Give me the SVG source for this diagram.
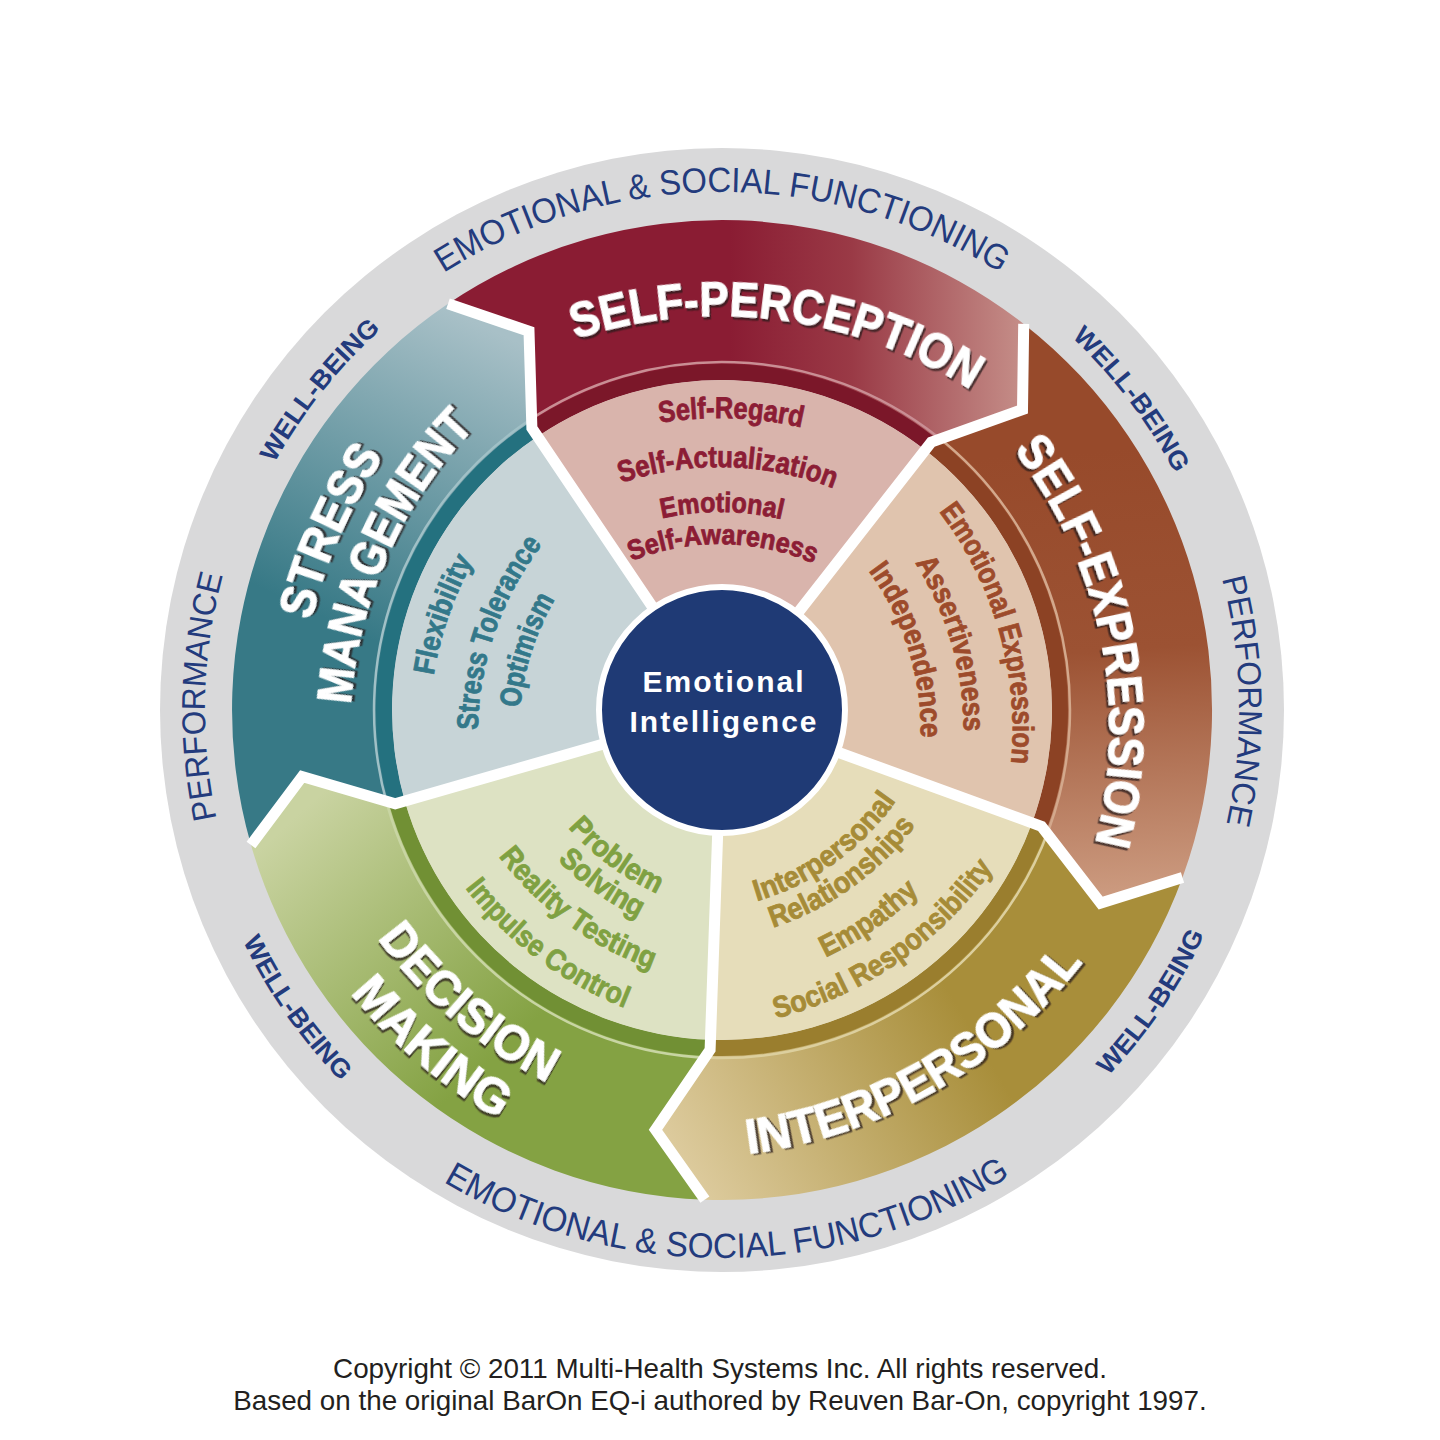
<svg xmlns="http://www.w3.org/2000/svg" xmlns:xlink="http://www.w3.org/1999/xlink" width="1440" height="1440" viewBox="0 0 1440 1440">
<style>
.ring{font-family:"Liberation Sans",Arial,sans-serif;fill:#233b7d;}
.wb{font-family:"Liberation Sans",Arial,sans-serif;fill:#233b7d;font-weight:bold;font-size:26px;}
.title{font-family:"Liberation Sans",Arial,sans-serif;font-weight:bold;font-size:49px;fill:#ffffff;stroke:#ffffff;stroke-width:1.1;filter:url(#sh);}
.inner{font-family:"Liberation Sans",Arial,sans-serif;font-weight:bold;font-size:30px;stroke-width:0.8;}
.wl{fill:none;stroke:#ffffff;stroke-width:11;stroke-linejoin:miter;}
</style>
<defs>
<filter id="sh" x="-5%" y="-20%" width="110%" height="140%"><feDropShadow dx="2" dy="2.5" stdDeviation="0.6" flood-color="#2a1c1c" flood-opacity="0.75"/></filter>
<linearGradient id="gSP" gradientUnits="userSpaceOnUse" x1="730" y1="0" x2="1035" y2="0"><stop offset="0" stop-color="#8a1c33"/><stop offset="0.4" stop-color="#9a3a46"/><stop offset="1" stop-color="#c8948d"/></linearGradient>
<linearGradient id="gSE" gradientUnits="userSpaceOnUse" x1="1100" y1="450" x2="1130" y2="895"><stop offset="0" stop-color="#974a2b"/><stop offset="0.45" stop-color="#9c5233"/><stop offset="1" stop-color="#cc9b80"/></linearGradient>
<linearGradient id="gIP" gradientUnits="userSpaceOnUse" x1="690" y1="1170" x2="960" y2="1010"><stop offset="0" stop-color="#dcca9c"/><stop offset="1" stop-color="#a88e3a"/></linearGradient>
<linearGradient id="gDM" gradientUnits="userSpaceOnUse" x1="270" y1="840" x2="480" y2="1070"><stop offset="0" stop-color="#c9d3a1"/><stop offset="1" stop-color="#84a243"/></linearGradient>
<linearGradient id="gSM" gradientUnits="userSpaceOnUse" x1="470" y1="320" x2="330" y2="620"><stop offset="0" stop-color="#a8c0c7"/><stop offset="1" stop-color="#377986"/></linearGradient>
<path id="rTop" d="M722,1228 A518,518 0 1 1 722,192 A518,518 0 1 1 722,1228"/>
<path id="rWB" d="M722,1221 A511,511 0 1 1 722,199 A511,511 0 1 1 722,1221"/>
<path id="rPerf" d="M722,1227 A517,517 0 1 1 722,193 A517,517 0 1 1 722,1227"/>
<path id="rBot" d="M722,162 A548,548 0 1 0 722,1258 A548,548 0 1 0 722,162"/>
<path id="rWBb" d="M722,178 A532,532 0 1 0 722,1242 A532,532 0 1 0 722,178"/>
<path id="tSP" d="M719.6,1244 A464,464 0 1 1 719.6,316 A464,464 0 1 1 719.6,1244"/>
<path id="tSE" d="M654.7,1184.3 A455,455 0 1 1 654.7,274.3 A455,455 0 1 1 654.7,1184.3"/>
<path id="tIP" d="M682.9,146 A506,506 0 1 0 682.9,1158 A506,506 0 1 0 682.9,146"/>
<path id="tDM1" d="M765.1,174.8 A480,480 0 1 0 765.1,1134.8 A480,480 0 1 0 765.1,174.8"/>
<path id="tDM2" d="M765.1,119.8 A535,535 0 1 0 765.1,1189.8 A535,535 0 1 0 765.1,119.8"/>
<path id="tSM1" d="M787.8,1223.9 A490,490 0 1 1 787.8,243.9 A490,490 0 1 1 787.8,1223.9"/>
<path id="tSM2" d="M787.8,1171.9 A438,438 0 1 1 787.8,295.9 A438,438 0 1 1 787.8,1171.9"/>
<path id="iSP1" d="M719.6,1142 A362,362 0 1 1 719.6,418 A362,362 0 1 1 719.6,1142"/>
<path id="iSP2" d="M719.6,1093 A313,313 0 1 1 719.6,467 A313,313 0 1 1 719.6,1093"/>
<path id="iSP3" d="M719.6,1048 A268,268 0 1 1 719.6,512 A268,268 0 1 1 719.6,1048"/>
<path id="iSP4" d="M719.6,1016 A236,236 0 1 1 719.6,544 A236,236 0 1 1 719.6,1016"/>
<path id="iSE1" d="M654.7,1087.3 A358,358 0 1 1 654.7,371.3 A358,358 0 1 1 654.7,1087.3"/>
<path id="iSE2" d="M654.7,1038.3 A309,309 0 1 1 654.7,420.3 A309,309 0 1 1 654.7,1038.3"/>
<path id="iSE3" d="M654.7,995.3 A266,266 0 1 1 654.7,463.3 A266,266 0 1 1 654.7,995.3"/>
<path id="iIP1" d="M682.9,392 A260,260 0 1 0 682.9,912 A260,260 0 1 0 682.9,392"/>
<path id="iIP2" d="M682.9,362 A290,290 0 1 0 682.9,942 A290,290 0 1 0 682.9,362"/>
<path id="iIP3" d="M682.9,315 A337,337 0 1 0 682.9,989 A337,337 0 1 0 682.9,315"/>
<path id="iIP4" d="M682.9,274 A378,378 0 1 0 682.9,1030 A378,378 0 1 0 682.9,274"/>
<path id="iDM1" d="M765.1,392.8 A262,262 0 1 0 765.1,916.8 A262,262 0 1 0 765.1,392.8"/>
<path id="iDM2" d="M765.1,362.8 A292,292 0 1 0 765.1,946.8 A292,292 0 1 0 765.1,362.8"/>
<path id="iDM3" d="M765.1,320.8 A334,334 0 1 0 765.1,988.8 A334,334 0 1 0 765.1,320.8"/>
<path id="iDM4" d="M765.1,274.8 A380,380 0 1 0 765.1,1034.8 A380,380 0 1 0 765.1,274.8"/>
<path id="iSM1" d="M787.8,1092.9 A359,359 0 1 1 787.8,374.9 A359,359 0 1 1 787.8,1092.9"/>
<path id="iSM2" d="M787.8,1043.9 A310,310 0 1 1 787.8,423.9 A310,310 0 1 1 787.8,1043.9"/>
<path id="iSM3" d="M787.8,1002.9 A269,269 0 1 1 787.8,464.9 A269,269 0 1 1 787.8,1002.9"/>
</defs>
<rect width="1440" height="1440" fill="#ffffff"/>
<g id="outer-ring">
<circle cx="722" cy="710" r="562" fill="#d9d9da"/>
<text class="ring" font-size="35"><textPath href="#rTop" startOffset="50%" text-anchor="middle" textLength="588" lengthAdjust="spacingAndGlyphs">EMOTIONAL &amp; SOCIAL FUNCTIONING</textPath></text>
<text class="ring" font-size="35" transform="rotate(-0.6 722 710)"><textPath href="#rBot" startOffset="50%" text-anchor="middle" textLength="596" lengthAdjust="spacingAndGlyphs">EMOTIONAL &amp; SOCIAL FUNCTIONING</textPath></text>
<text class="wb" transform="rotate(-51.5 722 710)"><textPath href="#rWB" startOffset="50%" text-anchor="middle" textLength="172" lengthAdjust="spacingAndGlyphs">WELL-BEING</textPath></text>
<text class="wb" transform="rotate(52.8 722 710)"><textPath href="#rWB" startOffset="50%" text-anchor="middle" textLength="172" lengthAdjust="spacingAndGlyphs">WELL-BEING</textPath></text>
<text class="wb" transform="rotate(-55.8 722 710)"><textPath href="#rWBb" startOffset="50%" text-anchor="middle" textLength="172" lengthAdjust="spacingAndGlyphs">WELL-BEING</textPath></text>
<text class="wb" transform="rotate(55 722 710)"><textPath href="#rWBb" startOffset="50%" text-anchor="middle" textLength="172" lengthAdjust="spacingAndGlyphs">WELL-BEING</textPath></text>
<text class="ring" font-size="33" transform="rotate(-88.5 722 710)"><textPath href="#rPerf" startOffset="50%" text-anchor="middle" textLength="246" lengthAdjust="spacingAndGlyphs">PERFORMANCE</textPath></text>
<text class="ring" font-size="33" transform="rotate(89 722 710)"><textPath href="#rPerf" startOffset="50%" text-anchor="middle" textLength="248" lengthAdjust="spacingAndGlyphs">PERFORMANCE</textPath></text>
</g>
<g id="self-perception">
<path d="M537.5,436.4 L529,331.3 L448,303.8 A490,490 0 0 1 1023.7,323.9 L1022.5,409.5 L925.2,450 A330,330 0 0 0 537.5,436.4 Z" fill="url(#gSP)"/>
<path d="M537.5,436.4 A330,330 0 0 1 925.2,450 L935,437.4 A346,346 0 0 0 528.5,423.2 Z" fill="#7b1729"/>
<path d="M527.4,421.5 A348,348 0 0 1 936.3,435.8" fill="none" stroke="#c98e94" stroke-width="2.5"/>
<path d="M722,710 L537.5,436.4 A330,330 0 0 1 925.2,450 Z" fill="#d9b4ac"/>
<text class="title" transform="rotate(7.3 719.6 780)"><textPath href="#tSP" startOffset="50%" text-anchor="middle" textLength="412" lengthAdjust="spacingAndGlyphs">SELF-PERCEPTION</textPath></text>
<g class="inner" fill="#8c1d35" stroke="#8c1d35">
<text transform="rotate(1.8 719.6 780)"><textPath href="#iSP1" startOffset="50%" text-anchor="middle" textLength="143" lengthAdjust="spacingAndGlyphs">Self-Regard</textPath></text>
<text transform="rotate(1.5 719.6 780)"><textPath href="#iSP2" startOffset="50%" text-anchor="middle" textLength="217" lengthAdjust="spacingAndGlyphs">Self-Actualization</textPath></text>
<text font-size="28" transform="rotate(0.5 719.6 780)"><textPath href="#iSP3" startOffset="50%" text-anchor="middle" textLength="121" lengthAdjust="spacingAndGlyphs">Emotional</textPath></text>
<text font-size="28" transform="rotate(0.8 719.6 780)"><textPath href="#iSP4" startOffset="50%" text-anchor="middle" textLength="187" lengthAdjust="spacingAndGlyphs">Self-Awareness</textPath></text>
</g>
</g>
<g id="self-expression">
<path d="M925.2,450 L1022.5,409.5 L1023.7,323.9 A490,490 0 0 1 1182.5,877.6 L1100.7,903 L1032.1,822.9 A330,330 0 0 0 925.2,450 Z" fill="url(#gSE)"/>
<path d="M925.2,450 A330,330 0 0 1 1032.1,822.9 L1047.1,828.3 A346,346 0 0 0 935,437.4 Z" fill="#8c4224"/>
<path d="M936.3,435.8 A348,348 0 0 1 1049,829" fill="none" stroke="#d3a88c" stroke-width="2.5"/>
<path d="M722,710 L925.2,450 A330,330 0 0 1 1032.1,822.9 Z" fill="#e0c4ae"/>
<text class="title" transform="rotate(78.3 654.7 729.3)"><textPath href="#tSE" startOffset="50%" text-anchor="middle" textLength="416" lengthAdjust="spacingAndGlyphs">SELF-EXPRESSION</textPath></text>
<g class="inner" fill="#9d4b2b" stroke="#9d4b2b">
<text transform="rotate(74 654.7 729.3)"><textPath href="#iSE1" startOffset="50%" text-anchor="middle" textLength="268" lengthAdjust="spacingAndGlyphs">Emotional Expression</textPath></text>
<text transform="rotate(73.9 654.7 729.3)"><textPath href="#iSE2" startOffset="50%" text-anchor="middle" textLength="178" lengthAdjust="spacingAndGlyphs">Assertiveness</textPath></text>
<text transform="rotate(72.6 654.7 729.3)"><textPath href="#iSE3" startOffset="50%" text-anchor="middle" textLength="178" lengthAdjust="spacingAndGlyphs">Independence</textPath></text>
</g>
</g>
<g id="interpersonal">
<path d="M1032.1,822.9 L1100.7,903 L1182.5,877.6 A490,490 0 0 1 704.9,1199.7 L655.5,1129.8 L710.5,1039.8 A330,330 0 0 0 1032.1,822.9 Z" fill="url(#gIP)"/>
<path d="M1032.1,822.9 A330,330 0 0 1 710.5,1039.8 L709.9,1055.8 A346,346 0 0 0 1047.1,828.3 Z" fill="#9a7e2e"/>
<path d="M1049,829 A348,348 0 0 1 709.9,1057.8" fill="none" stroke="#dccf9e" stroke-width="2.5"/>
<path d="M722,710 L1032.1,822.9 A330,330 0 0 1 710.5,1039.8 Z" fill="#e6ddba"/>
<text class="title" transform="rotate(-29.8 682.9 652)"><textPath href="#tIP" startOffset="50%" text-anchor="middle" textLength="396" lengthAdjust="spacingAndGlyphs">INTERPERSONAL</textPath></text>
<g class="inner" fill="#a68b37" stroke="#a68b37">
<text transform="rotate(-35.8 682.9 652)"><textPath href="#iIP1" startOffset="50%" text-anchor="middle" textLength="175" lengthAdjust="spacingAndGlyphs">Interpersonal</textPath></text>
<text transform="rotate(-35.7 682.9 652)"><textPath href="#iIP2" startOffset="50%" text-anchor="middle" textLength="178" lengthAdjust="spacingAndGlyphs">Relationships</textPath></text>
<text transform="rotate(-34.8 682.9 652)"><textPath href="#iIP3" startOffset="50%" text-anchor="middle" textLength="115" lengthAdjust="spacingAndGlyphs">Empathy</textPath></text>
<text transform="rotate(-34.7 682.9 652)"><textPath href="#iIP4" startOffset="50%" text-anchor="middle" textLength="270" lengthAdjust="spacingAndGlyphs">Social Responsibility</textPath></text>
</g>
</g>
<g id="decision-making">
<path d="M710.5,1039.8 L655.5,1129.8 L704.9,1199.7 A490,490 0 0 1 251,845 L302.2,776.5 L404.8,800.9 A330,330 0 0 0 710.5,1039.8 Z" fill="url(#gDM)"/>
<path d="M710.5,1039.8 A330,330 0 0 1 404.8,800.9 L389.4,805.4 A346,346 0 0 0 709.9,1055.8 Z" fill="#719034"/>
<path d="M709.9,1057.8 A348,348 0 0 1 387.5,805.9" fill="none" stroke="#c8d5a3" stroke-width="2.5"/>
<path d="M722,710 L710.5,1039.8 A330,330 0 0 1 404.8,800.9 Z" fill="#dde2c3"/>
<text class="title" transform="rotate(40.4 765.1 654.8)"><textPath href="#tDM1" startOffset="50%" text-anchor="middle" textLength="225" lengthAdjust="spacingAndGlyphs">DECISION</textPath></text>
<text class="title" transform="rotate(40.3 765.1 654.8)"><textPath href="#tDM2" startOffset="50%" text-anchor="middle" textLength="196" lengthAdjust="spacingAndGlyphs">MAKING</textPath></text>
<g class="inner" fill="#7fa142" stroke="#7fa142">
<text transform="rotate(36.5 765.1 654.8)"><textPath href="#iDM1" startOffset="50%" text-anchor="middle" textLength="112" lengthAdjust="spacingAndGlyphs">Problem</textPath></text>
<text transform="rotate(35.5 765.1 654.8)"><textPath href="#iDM2" startOffset="50%" text-anchor="middle" textLength="100" lengthAdjust="spacingAndGlyphs">Solving</textPath></text>
<text transform="rotate(36.4 765.1 654.8)"><textPath href="#iDM3" startOffset="50%" text-anchor="middle" textLength="193" lengthAdjust="spacingAndGlyphs">Reality Testing</textPath></text>
<text transform="rotate(36.9 765.1 654.8)"><textPath href="#iDM4" startOffset="50%" text-anchor="middle" textLength="202" lengthAdjust="spacingAndGlyphs">Impulse Control</textPath></text>
</g>
</g>
<g id="stress-management">
<path d="M404.8,800.9 L302.2,776.5 L251,845 A490,490 0 0 1 448,303.8 L529,331.3 L537.5,436.4 A330,330 0 0 0 404.8,800.9 Z" fill="url(#gSM)"/>
<path d="M404.8,800.9 A330,330 0 0 1 537.5,436.4 L528.5,423.2 A346,346 0 0 0 389.4,805.4 Z" fill="#24717f"/>
<path d="M387.5,805.9 A348,348 0 0 1 527.4,421.5" fill="none" stroke="#a0c0c6" stroke-width="2.5"/>
<path d="M722,710 L404.8,800.9 A330,330 0 0 1 537.5,436.4 Z" fill="#c7d4d7"/>
<text class="title" transform="rotate(-66.1 787.8 733.9)"><textPath href="#tSM1" startOffset="50%" text-anchor="middle" textLength="180" lengthAdjust="spacingAndGlyphs">STRESS</textPath></text>
<text class="title" transform="rotate(-65.9 787.8 733.9)"><textPath href="#tSM2" startOffset="50%" text-anchor="middle" textLength="310" lengthAdjust="spacingAndGlyphs">MANAGEMENT</textPath></text>
<g class="inner" fill="#33788a" stroke="#33788a">
<text transform="rotate(-70.9 787.8 733.9)"><textPath href="#iSM1" startOffset="50%" text-anchor="middle" textLength="122" lengthAdjust="spacingAndGlyphs">Flexibility</textPath></text>
<text transform="rotate(-70.8 787.8 733.9)"><textPath href="#iSM2" startOffset="50%" text-anchor="middle" textLength="200" lengthAdjust="spacingAndGlyphs">Stress Tolerance</textPath></text>
<text transform="rotate(-72.2 787.8 733.9)"><textPath href="#iSM3" startOffset="50%" text-anchor="middle" textLength="115" lengthAdjust="spacingAndGlyphs">Optimism</textPath></text>
</g>
</g>
<g id="connectors">
<path class="wl" d="M722,710 L931.3,442.1 L1022.5,409.5 L1023.7,323.9"/>
<path class="wl" d="M722,710 L1041.5,826.3 L1100.7,903 L1182.5,877.6"/>
<path class="wl" d="M722,710 L710.1,1049.8 L655.5,1129.8 L704.9,1199.7"/>
<path class="wl" d="M722,710 L395.2,803.7 L302.2,776.5 L251,845"/>
<path class="wl" d="M722,710 L531.9,428.1 L529,331.3 L448,303.8"/>
</g>
<g id="emotional-intelligence">
<circle cx="722" cy="710" r="123" fill="#1f3a75" stroke="#ffffff" stroke-width="6"/>
<text x="724" y="692" text-anchor="middle" font-family="Liberation Sans, Arial, sans-serif" font-weight="bold" font-size="30" letter-spacing="2" fill="#ffffff">Emotional</text>
<text x="724" y="732" text-anchor="middle" font-family="Liberation Sans, Arial, sans-serif" font-weight="bold" font-size="30" letter-spacing="2" fill="#ffffff">Intelligence</text>
</g>
<g id="copyright" font-family="Liberation Sans, Arial, sans-serif" font-size="27.8" fill="#231f20" text-anchor="middle">
<text x="720" y="1378">Copyright © 2011 Multi-Health Systems Inc. All rights reserved.</text>
<text x="720" y="1410">Based on the original BarOn EQ-i authored by Reuven Bar-On, copyright 1997.</text>
</g>
</svg>
